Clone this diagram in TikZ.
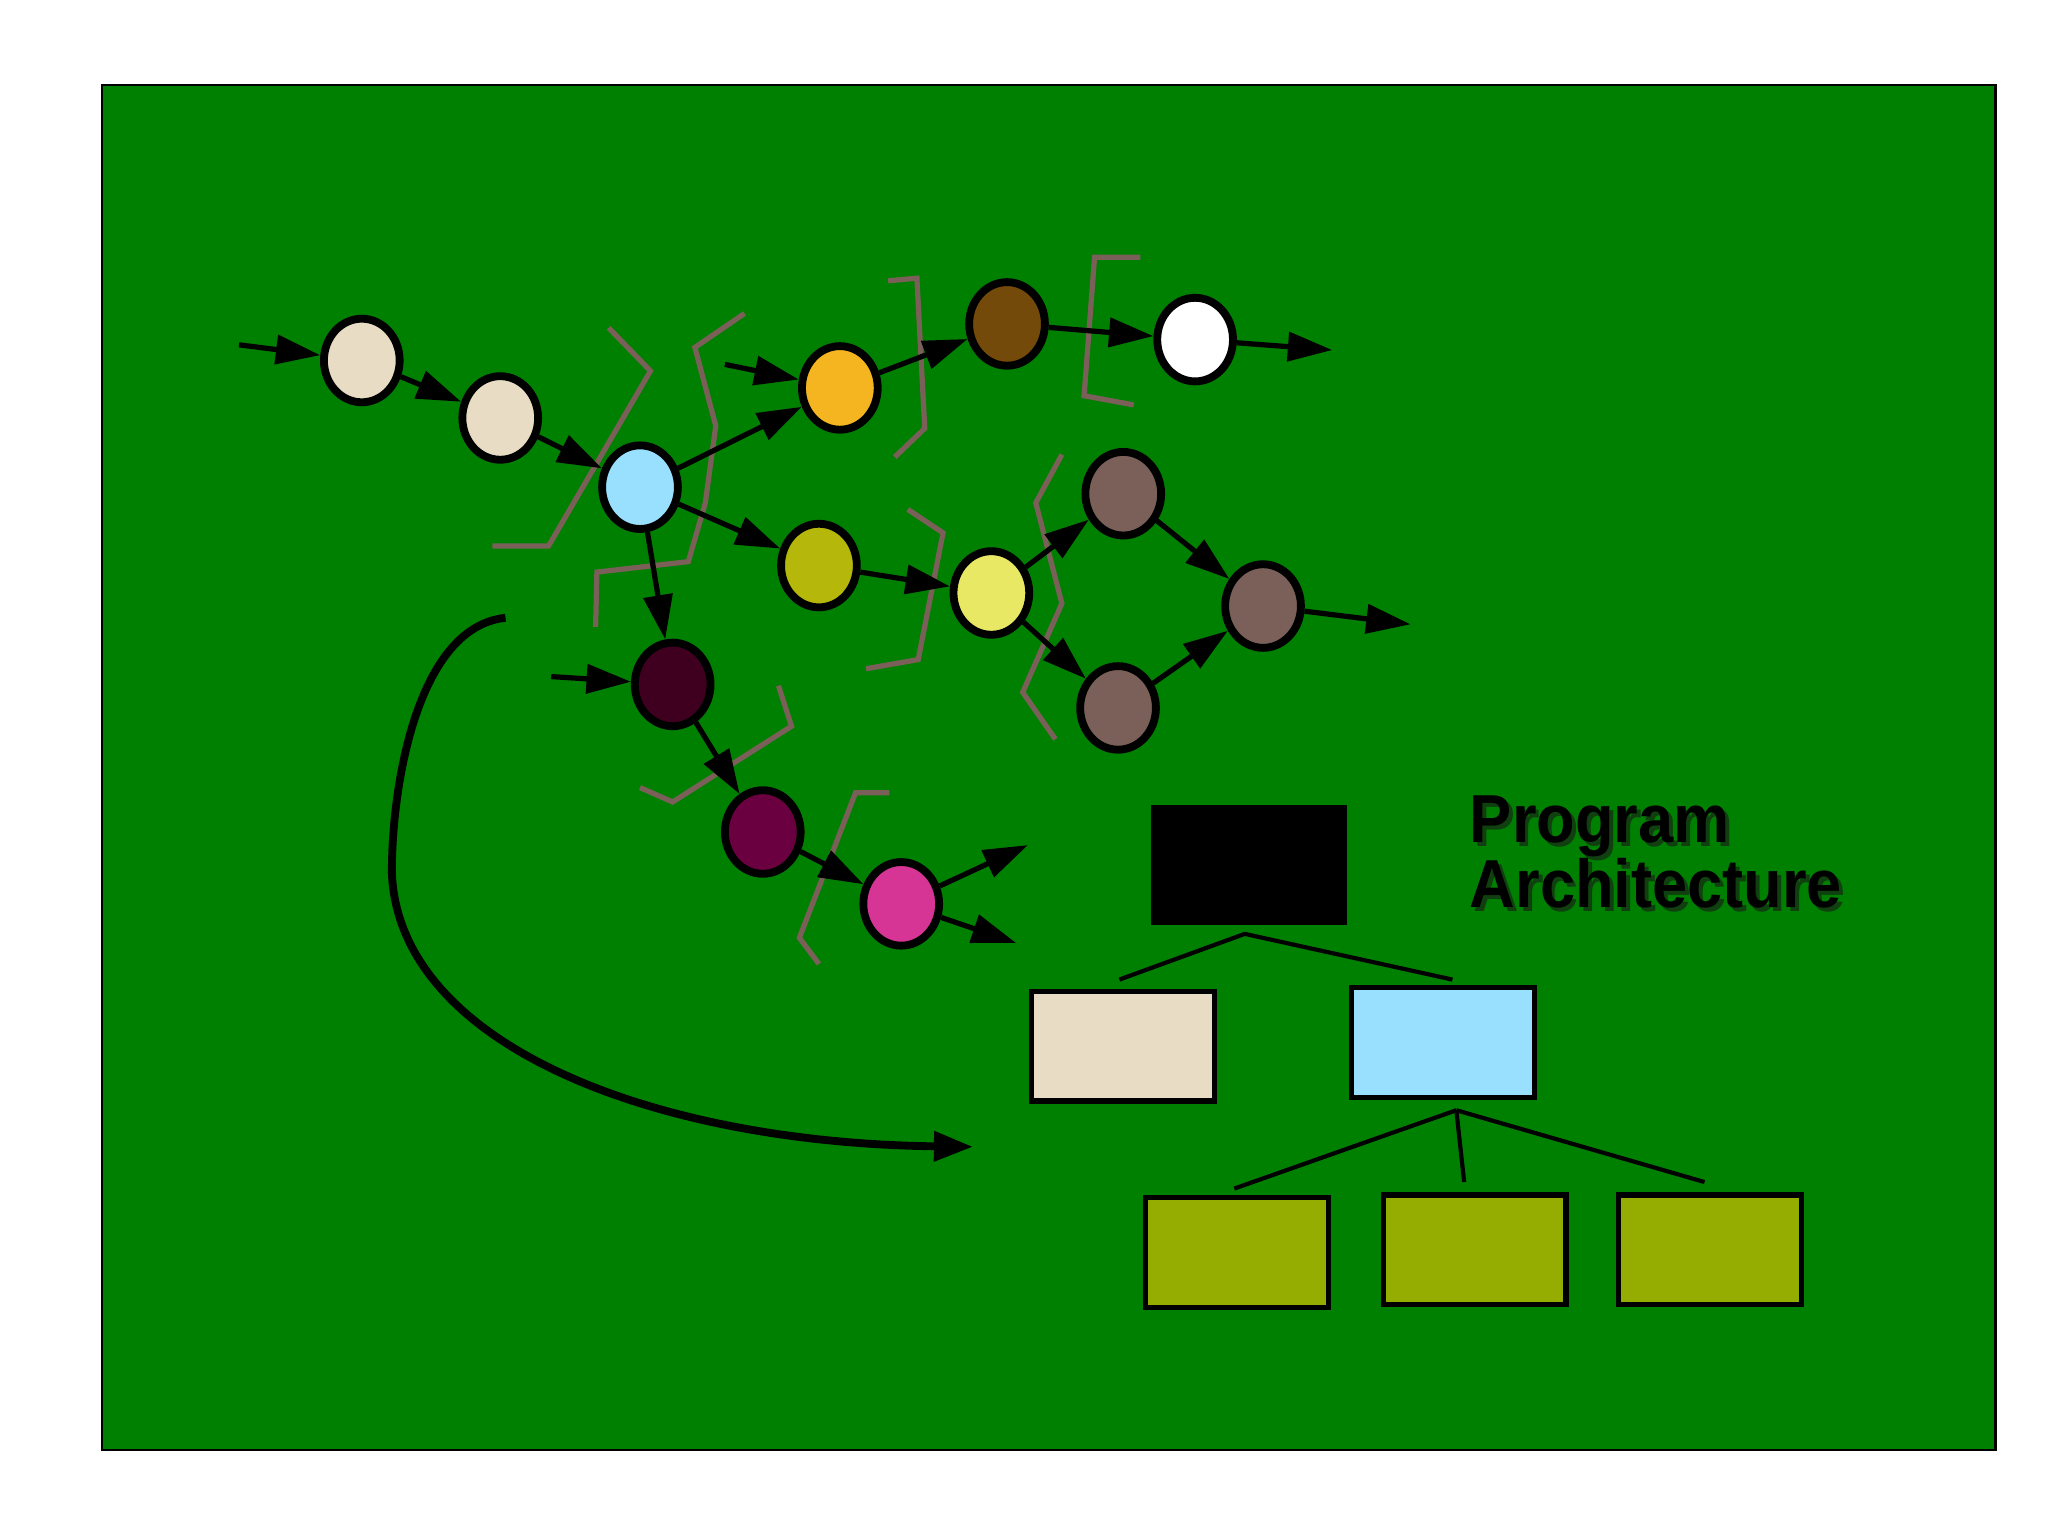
\documentclass[tikz,border=0pt]{standalone}
\usepackage{fontspec}
\setmainfont{Liberation Sans}
\usetikzlibrary{shapes.geometric,arrows.meta}
\definecolor{bg}{HTML}{008000}
\definecolor{beige}{HTML}{E8DCC4}
\definecolor{lblue}{HTML}{99E0FF}
\definecolor{orng}{HTML}{F5B520}
\definecolor{brwn}{HTML}{734A0A}
\definecolor{olv}{HTML}{B5B80A}
\definecolor{ylw}{HTML}{E8E864}
\definecolor{gbr}{HTML}{7A6058}
\definecolor{dkr}{HTML}{3F0020}
\definecolor{plum}{HTML}{6B0040}
\definecolor{pink}{HTML}{D63596}
\definecolor{grn}{HTML}{94AD00}
\definecolor{shd}{HTML}{104010}
\tikzset{
 bub/.style={ellipse,draw=black,line width=3pt,minimum width=29pt,minimum height=32pt,inner sep=0pt},
 arr/.style={line width=2pt,-{Triangle[length=17pt,width=11pt]}},
 brk/.style={draw=gbr,line width=2pt},
 box/.style={draw=black,line width=2pt,minimum width=70pt,minimum height=42pt,inner sep=0pt},
 tl/.style={line width=1.6pt},
 lab/.style={anchor=base west,font=\bfseries\fontsize{26}{26}\selectfont,xscale=0.93,inner sep=0pt}
}
\begin{document}
\begin{tikzpicture}[x=0.5pt,y=-0.5pt]
\useasboundingbox (0,0) rectangle (1568,1176);
\fill[white] (0,0) rectangle (1568,1176);
\draw[fill=bg,line width=1pt] (78,65) rectangle (1528,1110);
% brackets
\draw[brk] (466,251)--(498,284)--(420,418)--(377,418);
\draw[brk] (570,240)--(532,266)--(548,326)--(540,385)--(527,430)--(457,438)--(456,480);
\draw[brk] (680,215)--(702,213)--(708,328)--(685,350);
\draw[brk] (873,197)--(838,197)--(830,303)--(868,310);
\draw[brk] (695,390)--(722,408)--(703,505)--(663,512);
\draw[brk] (813,348)--(793,385)--(813,462)--(783,530)--(808,566);
\draw[brk] (490,603)--(515,614)--(606,556)--(596,525);
\draw[brk] (681,607)--(655,607)--(612,718)--(627,738);
% nodes
\node[bub,fill=beige] (a1) at (277,276) {};
\node[bub,fill=beige] (a2) at (383,320) {};
\node[bub,fill=lblue] (b) at (490,373) {};
\node[bub,fill=orng] (c) at (643,297) {};
\node[bub,fill=brwn] (d) at (771,248) {};
\node[bub,fill=white] (e) at (915,260) {};
\node[bub,fill=olv] (f) at (627,433) {};
\node[bub,fill=ylw] (g) at (759,454) {};
\node[bub,fill=gbr] (h) at (860,378) {};
\node[bub,fill=gbr] (i) at (967,464) {};
\node[bub,fill=gbr] (j) at (856,542) {};
\node[bub,fill=dkr] (k) at (515,524) {};
\node[bub,fill=plum] (l) at (584,637) {};
\node[bub,fill=pink] (m) at (690,692) {};
\coordinate (ia) at (183,264);
\coordinate (ic) at (555,279);
\coordinate (oe) at (1020,268);
\coordinate (oi) at (1080,478);
\coordinate (ik) at (422,518);
\coordinate (om1) at (787,647);
\coordinate (om2) at (778,722);
\draw[arr] (ia)--(a1);
\draw[arr] (a1)--(a2);
\draw[arr] (a2)--(b);
\draw[arr] (b)--(c);
\draw[arr] (ic)--(c);
\draw[arr] (c)--(d);
\draw[arr] (d)--(e);
\draw[arr] (e)--(oe);
\draw[arr] (b)--(f);
\draw[arr] (f)--(g);
\draw[arr] (g)--(h);
\draw[arr] (g)--(j);
\draw[arr] (h)--(i);
\draw[arr] (j)--(i);
\draw[arr] (i)--(oi);
\draw[arr] (b)--(k);
\draw[arr] (ik)--(k);
\draw[arr] (k)--(l);
\draw[arr] (l)--(m);
\draw[arr] (m)--(om1);
\draw[arr] (m)--(om2);
% big curve
\coordinate (cs) at (387,473);
\coordinate (ce) at (745,878);
\draw[line width=3pt,-{Triangle[length=15pt,width=11pt]}] (cs) .. controls (320,480) and (300,600) .. (300,668)
  .. controls (305,800) and (500,875) .. (ce);
% hierarchy
\node[box,fill=black,minimum width=73pt,minimum height=44pt] (r) at (956,662) {};
\node[box,fill=beige] (p1) at (860,801) {};
\node[box,fill=lblue] (p2) at (1105,798) {};
\node[box,fill=grn] (q1) at (947,959) {};
\node[box,fill=grn] (q2) at (1129,957) {};
\node[box,fill=grn] (q3) at (1309,957) {};
\coordinate (rj) at (953,715);
\coordinate (p1t) at (857,750);
\coordinate (p2t) at (1112,750);
\draw[tl] (p1t) -- (rj) -- (p2t);
\coordinate (pj) at (1115,850);
\draw[tl] (pj) -- (945,910);
\draw[tl] (pj) -- (1121,905);
\draw[tl] (pj) -- (1305,905);
\node[lab,text=shd] (ts) at (1128,648) {Program};
\node[lab,text=shd] (t2s) at (1128,698) {Architecture};
\node[lab,text=black] (t) at (1125,645) {Program};
\node[lab,text=black] (t2) at (1125,695) {Architecture};
\end{tikzpicture}
\end{document}
